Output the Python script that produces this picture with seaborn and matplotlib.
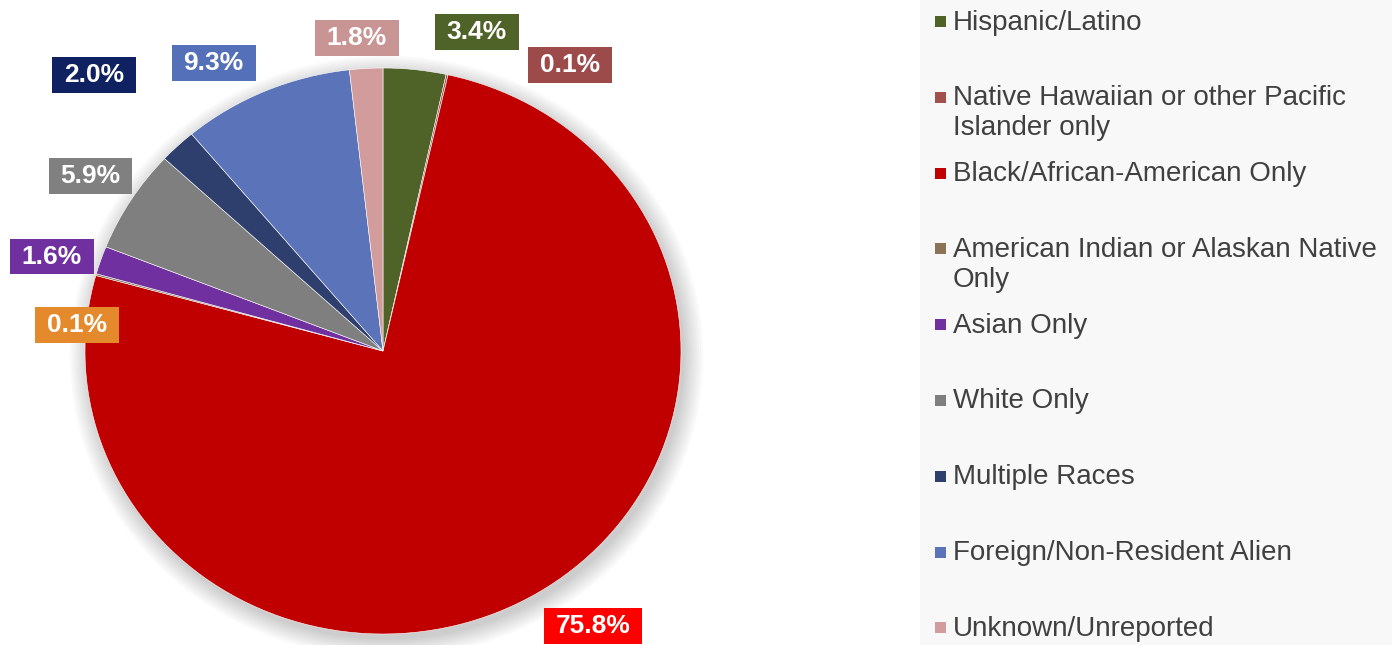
import numpy as np
import matplotlib
matplotlib.use("Agg")
import matplotlib.pyplot as plt
from matplotlib.patches import Rectangle, Circle
from matplotlib.path import Path
import seaborn as sns

# Data
categories = ['Hispanic/Latino',
              'Native Hawaiian or other Pacific\nIslander only',
              'Black/African-American Only',
              'American Indian or Alaskan Native\nOnly',
              'Asian Only',
              'White Only',
              'Multiple Races',
              'Foreign/Non-Resident Alien',
              'Unknown/Unreported']
shares = [3.4, 0.1, 75.8, 0.1, 1.6, 5.9, 2.0, 9.3, 1.8]

# Colours (slice / legend square) and label box colours
slice_colors = ['#4F6228', '#A0504D', '#C00000', '#8C7356', '#7030A0',
                '#7F7F7F', '#2E3F6E', '#5B73B8', '#D39C9C']
box_colors = ['#4F6228', '#9C4A4A', '#FF0000', '#E58A2C', '#7030A0',
              '#808080', '#0F2160', '#5470B8', '#C99494']

# label placement: nudge (deg, clockwise) and distance from centre
label_nudge = [9.5, 19.4, -5, -10.6, -2, 0, -1.3, -6, -1.3]
label_radius = [1.17, 1.19, 1.2, 1.03, 1.16, 1.16, 1.375, 1.165, 1.11]


def wide_box(x0, y0, width, height, mutation_size):
    # square box, more padding left/right than top/bottom
    px, py = 0.45 * mutation_size, 0.22 * mutation_size
    x0, y0 = x0 - px, y0 - py
    x1, y1 = x0 + width + 2 * px, y0 + height + 2 * py
    return Path([(x0, y0), (x1, y0), (x1, y1), (x0, y1), (x0, y0)], closed=True)


sns.set_theme(style='white')
plt.rcParams['font.family'] = ['Liberation Sans', 'DejaVu Sans']
palette = sns.color_palette(slice_colors)

fig = plt.figure(figsize=(13.92, 6.45), dpi=100)

# legend panel background
fig.patches.append(Rectangle((920 / 1392, 0), 472 / 1392, 1, transform=fig.transFigure,
                             facecolor='#F8F8F8', edgecolor='none', zorder=-1))

# pie axes (slightly wider than tall, as in the reference)
ax = fig.add_axes([85 / 1392, (645 - 634) / 645, 596 / 1392, 566 / 645])

# soft shadow
for k in range(10):
    ax.add_patch(Circle((0.012, -0.02), 1.0 + 0.007 * k, facecolor='black',
                        edgecolor='none', alpha=0.018, zorder=0, clip_on=False))

wedges, _ = ax.pie(shares, colors=palette, startangle=90, counterclock=False,
                   wedgeprops=dict(edgecolor='white', linewidth=0.4))
ax.set_aspect('auto')
ax.set_xlim(-1, 1)
ax.set_ylim(-1, 1)
ax.axis('off')

for w, v, bc, nud, rad in zip(wedges, shares, box_colors, label_nudge, label_radius):
    mid = np.deg2rad((w.theta1 + w.theta2) / 2 - nud)
    ax.text(rad * np.cos(mid), rad * np.sin(mid), f'{v:.1f}%', ha='center', va='center',
            color='white', fontsize=19, fontweight='bold', zorder=5,
            bbox=dict(boxstyle=wide_box, facecolor=bc, edgecolor='none'))

# legend drawn by hand so the entry slots match the reference
lax = fig.add_axes([920 / 1392, 0, 472 / 1392, 1])
lax.set_xlim(0, 472)
lax.set_ylim(645, 0)
lax.axis('off')
for i, (lab, col) in enumerate(zip(categories, palette)):
    yc = 20.5 + i * 75.8
    lax.add_patch(Rectangle((15, yc - 4.5), 11, 11, facecolor=col, edgecolor='none'))
    lax.text(33, yc - 11, lab, ha='left', va='top', fontsize=20, color='#404040',
             linespacing=1.19, clip_on=True)

fig.savefig('out.png', dpi=100)
